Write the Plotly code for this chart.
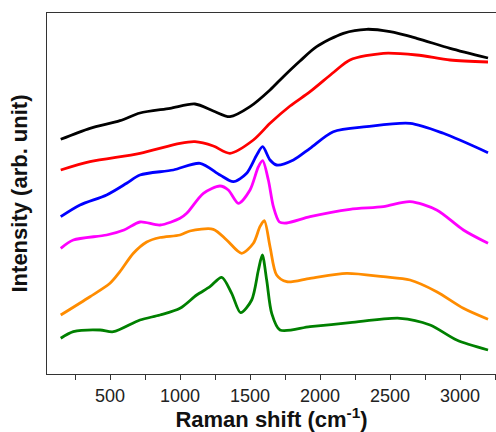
import plotly.graph_objects as go

# Raman shift (cm^-1) and intensity (arb. unit, offset-stacked)
black_x = [148, 357, 571, 714, 929, 1107, 1238, 1357, 1500, 1643, 1738, 1857, 1976, 2167, 2333, 2500, 2690, 2929, 3200]
black_y = [240.7, 251.7, 259.3, 267, 271.7, 276, 269, 263.3, 273.3, 290, 303.3, 319, 333.3, 346.7, 350.7, 348.3, 341.7, 331.7, 322]

red_x = [148, 357, 714, 1000, 1107, 1238, 1357, 1524, 1643, 1786, 1929, 2100, 2214, 2452, 2690, 2929, 3200]
red_y = [210, 218.3, 226.7, 236.7, 238.3, 234, 226.7, 240, 256.7, 274, 288.3, 308, 320, 326.7, 325, 320, 318]

blue_x = [148, 286, 476, 619, 714, 952, 1143, 1286, 1381, 1476, 1548, 1590, 1643, 1690, 1810, 1929, 2095, 2333, 2643, 2881, 3200]
blue_y = [163.3, 175, 185, 196.7, 205, 210, 216.7, 205, 198.3, 206.7, 225, 233.3, 220, 215, 220, 231.7, 248.3, 253.3, 256.7, 246.7, 227.3]

magenta_x = [148, 238, 476, 600, 714, 857, 1000, 1048, 1167, 1286, 1345, 1417, 1500, 1560, 1590, 1631, 1667, 1710, 1762, 1929, 2214, 2452, 2643, 2833, 3024, 3200]
magenta_y = [131.7, 140, 145, 150, 158, 155, 161.7, 166.7, 186.7, 194, 190, 176.7, 190, 213.3, 219.3, 200, 173.3, 158, 157, 163.3, 170.7, 173.3, 178.3, 170, 150, 136.7]

orange_x = [148, 357, 500, 571, 667, 762, 857, 1000, 1071, 1238, 1333, 1440, 1524, 1571, 1602, 1643, 1690, 1762, 1929, 2190, 2452, 2643, 2833, 3024, 3200]
orange_y = [65, 83.3, 96.7, 108.3, 126.7, 138, 142.5, 145, 149, 150.7, 140, 126.7, 136.7, 153.3, 159.3, 133.3, 105, 98.3, 101.7, 106.7, 103.3, 100, 88.3, 71.7, 60.7]

green_x = [148, 238, 429, 524, 714, 857, 1000, 1119, 1214, 1298, 1369, 1433, 1512, 1560, 1588, 1619, 1655, 1714, 1929, 2214, 2571, 2786, 2976, 3200]
green_y = [41.7, 48.3, 50, 48.3, 60, 65, 71.7, 85, 93.3, 102.7, 86.7, 67.3, 80, 110, 125, 100, 66.7, 50, 53.3, 57.3, 61.7, 55, 40, 30]

x_ticks = [500, 1000, 1500, 2000, 2500, 3000]
x_minor_ticks = [250, 750, 1250, 1750, 2250, 2750, 3250]

series = [
    ("black", black_x, black_y, "#000000"),
    ("red", red_x, red_y, "#ff0000"),
    ("blue", blue_x, blue_y, "#0000ff"),
    ("magenta", magenta_x, magenta_y, "#ff00ff"),
    ("orange", orange_x, orange_y, "#ff8c00"),
    ("green", green_x, green_y, "#008000"),
]

fig = go.Figure()
for name, xs, ys, col in series:
    fig.add_trace(go.Scatter(x=xs, y=ys, mode="lines", name=name, hoverinfo="skip",
                             line=dict(color=col, width=2.8, shape="spline", smoothing=0.8)))

fig.update_layout(
    width=496, height=432,
    margin=dict(l=47, r=0, t=13, b=58),
    paper_bgcolor="white", plot_bgcolor="white",
    showlegend=False,
    font=dict(family="Liberation Sans, Arial, sans-serif", color="#222"),
)
fig.update_xaxes(
    range=[50, 3257], showgrid=False, zeroline=False, automargin=False,
    showline=True, linecolor="#333", linewidth=1, mirror=True,
    tickmode="array", tickvals=x_ticks, ticktext=[str(v) for v in x_ticks],
    ticks="outside", ticklen=5, tickcolor="#333",
    minor=dict(tickmode="array", tickvals=x_minor_ticks,
               ticks="outside", ticklen=5, tickcolor="#333"),
    tickfont=dict(size=18, color="#222"),
    title=dict(text="<b>Raman shift (cm<sup>-1</sup>)</b>", font=dict(size=22, color="#111"), standoff=2),
)
fig.update_yaxes(
    range=[6, 367], showgrid=False, zeroline=False, automargin=False,
    showline=True, linecolor="#333", linewidth=1, mirror=False,
    showticklabels=False, ticks="",
    title=dict(text="<b>Intensity (arb. unit)</b>", font=dict(size=22, color="#111"), standoff=12),
)

fig.write_html("out.html", config={"displayModeBar": False},
               post_script="document.body.style.margin='0';document.body.style.overflow='hidden';")
